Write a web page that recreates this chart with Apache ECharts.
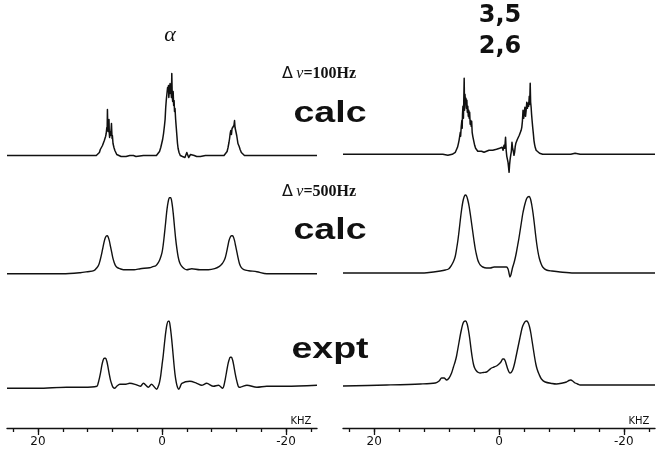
<!DOCTYPE html>
<html>
<head>
<meta charset="utf-8">
<script src="https://cdn.jsdelivr.net/npm/echarts@6/dist/echarts.min.js"></script>
<style>
  html, body { margin: 0; padding: 0; background: #fff; }
  #chart { width: 657px; height: 453px; }
</style>
</head>
<body>
<div id="chart"></div>
<script>
// Frequency offset in kHz, intensity in arbitrary units (baseline = 0).

// alpha deuterons, calculated with 100 Hz line width
const alphaCalc100 = [
  [25,0],[18,0],[13,0],[10.6,0],[10.3,1],[10.1,3],[9.95,6],[9.85,4],[9.75,8],[9.6,10],[9.5,9],[9.4,12],
  [9.3,15],[9.2,14],[9.1,19],[9.0,22],[8.95,20],[8.9,28],[8.85,25],[8.8,46],[8.75,30],[8.7,24],[8.65,33],
  [8.6,28],[8.55,36],[8.5,22],[8.45,18],[8.4,24],[8.3,20],[8.2,27],[8.15,32],[8.1,24],[8.05,17],[8.0,20],
  [7.9,12],[7.85,14],[7.75,8],[7.6,5],[7.45,3],[7.3,1],[7.1,0],[6.6,-1],[5.8,-1],[5.2,0],[4.9,2],[4.6,0],
  [4.2,-1],[3.0,0],[1.5,0],[0.9,0],[0.6,2],[0.4,4],[0.2,8],[0.05,12],[-0.1,16],[-0.25,22],[-0.4,30],
  [-0.5,36],[-0.6,48],[-0.7,56],[-0.8,62],[-0.9,68],[-0.95,64],[-1.05,70],[-1.1,58],[-1.2,66],[-1.3,72],
  [-1.38,62],[-1.45,66],[-1.52,58],[-1.58,82],[-1.65,60],[-1.72,54],[-1.8,64],[-1.88,50],[-1.95,55],
  [-2.02,44],[-2.1,47],[-2.2,36],[-2.3,28],[-2.4,20],[-2.5,12],[-2.6,7],[-2.75,3],[-2.95,0],[-3.3,-1],
  [-3.7,-2],[-4.0,3],[-4.3,-2],[-4.6,1],[-4.9,3],[-5.2,0],[-5.6,-1],[-6.2,-1],[-7,0],[-10.0,0],[-10.3,1],
  [-10.5,4],[-10.65,8],[-10.8,13],[-10.9,17],[-11.0,22],[-11.1,25],[-11.2,21],[-11.3,27],[-11.4,29],
  [-11.5,25],[-11.6,30],[-11.7,35],[-11.78,28],[-11.85,30],[-11.95,23],[-12.05,20],[-12.15,16],
  [-12.25,12],[-12.35,13],[-12.45,9],[-12.6,6],[-12.8,3],[-13.0,1],[-13.3,0],[-20,0],[-25,0]
];

// alpha deuterons, calculated with 500 Hz line width
const alphaCalc500 = [
  [25,0],[16,0],[13.2,1],[12.0,2],[11.0,3],[10.5,6],[10.2,9],[10.0,13],[9.8,18],[9.6,24],[9.4,30],
  [9.2,35],[9.0,37.5],[8.85,38],[8.7,37],[8.5,33],[8.3,27],[8.1,21],[7.9,15],[7.7,11],[7.5,8],[7.2,6],
  [6.8,5],[6.2,4],[4.5,4],[3.5,5],[2.0,6],[1.5,7],[1.0,8],[0.6,11],[0.3,15],[0.0,21],[-0.2,29],[-0.4,40],
  [-0.6,52],[-0.8,64],[-1.0,72],[-1.2,76],[-1.4,76],[-1.6,71],[-1.8,61],[-2.0,48],[-2.2,35],[-2.4,25],
  [-2.6,17],[-2.8,12],[-3.1,8],[-3.6,5],[-4.0,4],[-4.8,5],[-6.1,4],[-7.5,4],[-8.5,5],[-9.2,7],[-9.7,10],
  [-10.0,13],[-10.2,16],[-10.4,21],[-10.6,27],[-10.8,33],[-11.0,36.5],[-11.2,38],[-11.35,38],[-11.5,37],
  [-11.7,33],[-11.9,27],[-12.1,21],[-12.3,15],[-12.5,10],[-12.8,6],[-13.2,4],[-14,3],[-15.3,2],
  [-16.9,0],[-25,0]
];

// alpha deuterons, experiment
const alphaExpt = [
  [25,-1],[20,-1],[15.4,0],[12.7,0],[10.5,1],[10.3,4],[10.1,9],[9.9,15],[9.7,22],[9.5,27],[9.3,29],
  [9.1,29],[8.9,26],[8.7,20],[8.5,13],[8.3,7],[8.1,3],[7.9,0],[7.6,-1],[7.3,1],[6.8,3],[6.0,3],[5.2,4],
  [4.35,3],[3.5,1],[3.0,4],[2.2,0],[1.7,3],[0.85,-2],[0.6,1],[0.4,5],[0.2,12],[0.0,22],[-0.2,32],
  [-0.4,44],[-0.6,55],[-0.8,63],[-1.0,66],[-1.15,66],[-1.3,62],[-1.5,52],[-1.7,39],[-1.9,25],[-2.1,13],
  [-2.3,5],[-2.5,0],[-2.7,-2],[-2.9,0],[-3.2,4],[-4.5,6],[-5.6,4],[-6.4,2],[-7.2,4],[-8.3,1],[-9.1,2],
  [-9.8,-1],[-10.0,2],[-10.2,8],[-10.4,15],[-10.6,22],[-10.8,27],[-11.0,30],[-11.2,30],[-11.4,27],
  [-11.6,21],[-11.8,14],[-12.0,8],[-12.2,3],[-12.4,0],[-12.6,0],[-13.0,1],[-13.7,2],[-15.3,0],
  [-16.9,1],[-20,1],[-25,2]
];

// ring deuterons (3,5 / 2,6), calculated with 100 Hz line width
const ringCalc100 = [
  [25,0],[12,0],[9,0],[8.2,-1],[7.5,0],[7.2,1],[7.0,2],[6.8,4],[6.65,7],[6.5,11],[6.4,14],[6.3,16],
  [6.2,22],[6.15,18],[6.05,28],[5.95,34],[5.9,26],[5.85,40],[5.78,48],[5.7,36],[5.65,52],[5.58,76],
  [5.52,44],[5.45,60],[5.38,52],[5.3,56],[5.22,46],[5.15,54],[5.08,42],[5.0,48],[4.92,38],[4.85,44],
  [4.78,36],[4.7,42],[4.62,30],[4.55,34],[4.45,28],[4.38,33],[4.3,22],[4.2,18],[4.1,16],[4.0,12],
  [3.9,9],[3.75,6],[3.6,4],[3.4,3],[3.2,2],[2.8,3],[2.4,2],[2.0,3],[1.6,4],[1.3,3],[1.0,4],[0.7,3],
  [0.4,5],[0.15,4],[-0.1,6],[-0.3,5],[-0.5,7],[-0.65,4],[-0.8,9],[-0.92,6],[-1.05,17],[-1.15,4],
  [-1.25,-2],[-1.35,-5],[-1.45,-8],[-1.55,-14],[-1.62,-18],[-1.7,-10],[-1.8,-4],[-1.9,0],[-1.98,3],
  [-2.08,12],[-2.18,6],[-2.3,3],[-2.4,-1],[-2.5,2],[-2.6,8],[-2.7,11],[-2.8,12],[-2.95,15],[-3.1,17],
  [-3.25,19],[-3.4,21],[-3.55,24],[-3.65,27],[-3.75,33],[-3.85,44],[-3.95,36],[-4.05,41],[-4.15,47],
  [-4.25,38],[-4.35,44],[-4.45,52],[-4.55,46],[-4.65,51],[-4.75,48],[-4.85,58],[-4.92,50],[-5.0,71],
  [-5.07,52],[-5.15,47],[-5.22,40],[-5.3,34],[-5.4,27],[-5.5,21],[-5.6,14],[-5.7,10],[-5.8,7],
  [-5.95,4],[-6.2,2],[-6.5,1],[-7,0],[-11.5,0],[-12.2,1],[-13,0],[-25,0]
];

// ring deuterons, calculated with 500 Hz line width
const ringCalc500 = [
  [25,0],[12,0],[10.5,1],[9.4,2],[8.6,3],[8.1,4],[7.8,6],[7.5,9],[7.2,13],[7.0,17],[6.8,24],[6.6,32],
  [6.4,42],[6.2,53],[6.0,63],[5.8,71],[5.6,76],[5.4,78],[5.2,77],[5.0,73],[4.8,67],[4.6,59],[4.4,50],
  [4.2,41],[4.0,32],[3.8,24],[3.6,18],[3.4,13],[3.2,10],[3.0,8],[2.6,6],[2.0,5],[1.4,5],[0.8,6],
  [0.0,6],[-0.8,6],[-1.2,6],[-1.45,4],[-1.6,0],[-1.75,-4],[-1.9,-2],[-2.05,2],[-2.2,6],[-2.4,10],
  [-2.6,15],[-2.8,21],[-3.0,28],[-3.2,35],[-3.4,43],[-3.6,51],[-3.8,59],[-4.0,65],[-4.2,70],[-4.4,74],
  [-4.6,76],[-4.85,76.5],[-5.05,74],[-5.25,68],[-5.45,60],[-5.65,50],[-5.85,39],[-6.05,29],[-6.25,21],
  [-6.45,15],[-6.7,10],[-7.0,6],[-7.6,3],[-8.5,2],[-9.8,1],[-12,0],[-25,0]
];

// ring deuterons, experiment
const ringExpt = [
  [25,-1],[18,0],[12.6,1],[10.2,2],[9.6,4],[9.2,7],[8.8,7],[8.4,5],[8.0,7],[7.6,12],[7.3,18],[7.0,24],
  [6.8,29],[6.6,36],[6.4,43],[6.2,50],[6.0,56],[5.8,61],[5.6,63.5],[5.35,64],[5.1,61],[4.9,55],[4.7,47],
  [4.5,37],[4.3,28],[4.1,21],[3.9,17],[3.6,14],[3.3,12.5],[3.0,12],[2.5,12.5],[2.0,13],[1.6,15],
  [1.2,17],[0.8,18],[0.4,19],[0.0,21],[-0.3,23],[-0.6,26],[-0.8,26],[-1.0,24],[-1.2,20],[-1.4,16],
  [-1.6,13],[-1.75,12],[-1.95,12.5],[-2.15,14.5],[-2.35,18],[-2.55,23],[-2.75,29],[-2.95,35],
  [-3.15,41],[-3.35,47],[-3.55,53],[-3.75,58],[-3.95,61],[-4.2,63.5],[-4.45,64],[-4.7,62],[-4.9,58],
  [-5.1,52],[-5.3,44],[-5.5,36],[-5.7,28],[-5.9,21],[-6.1,16],[-6.4,11],[-6.8,6],[-7.4,3],[-8.5,1.5],
  [-9.2,1],[-10.2,2],[-10.8,3],[-11.2,4.5],[-11.5,5],[-11.9,3.5],[-12.2,2],[-12.6,1],[-13,0],[-25,0]
];

// frequency axis
const axisRange = [-25, 25];
const minorTicks = [24, 20, 16, 12, 8, 4, 0, -4, -8, -12, -16, -20, -24];
const majorTicks = [20, 0, -20];
const axisUnit = 'KHZ';

// annotations
const panelTitles = ['\u03b1', '3,5', '2,6'];
const widthLabels = ['=100Hz', '=500Hz'];
const traceLabels = ['calc', 'calc', 'expt'];

const INK = '#111';

// layout: two columns, three stacked traces each
const columns = [
  { left: 7, width: 310, traces: [alphaCalc100, alphaCalc500, alphaExpt], baselines: [155.5, 273.7, 387.3] },
  { left: 343, width: 312, traces: [ringCalc100, ringCalc500, ringExpt], baselines: [154.3, 273, 385] }
];
const axisY = 428;

const grid = [], xAxis = [], yAxis = [], series = [];

columns.forEach(col => {
  col.traces.forEach((data, i) => {
    const g = grid.length;
    // 1 intensity unit = 1 px: grid spans baseline-100 .. baseline+20
    grid.push({ left: col.left, width: col.width, top: col.baselines[i] - 100, height: 120 });
    const xi = xAxis.length, yi = yAxis.length;
    xAxis.push({ gridIndex: g, type: 'value', min: axisRange[0], max: axisRange[1], inverse: true, show: false });
    yAxis.push({ gridIndex: g, type: 'value', min: -20, max: 100, show: false });
    const jagged = i === 0;
    series.push({
      type: 'line', xAxisIndex: xi, yAxisIndex: yi, data: data,
      showSymbol: false, symbol: 'none', silent: true, animation: false,
      smooth: jagged ? false : 0.3,
      lineStyle: { color: INK, width: jagged ? 1.5 : 1.4, join: 'round' }
    });
  });
  // frequency axis under each column
  const g = grid.length;
  grid.push({ left: col.left, width: col.width, top: axisY - 1, height: 1 });
  yAxis.push({ gridIndex: g, type: 'value', min: 0, max: 1, show: false });
  xAxis.push({
    gridIndex: g, type: 'value', min: axisRange[0], max: axisRange[1], inverse: true, position: 'bottom',
    axisLine: { show: true, onZero: false, lineStyle: { color: INK, width: 1.4 } },
    axisTick: { show: true, length: 4, customValues: minorTicks, lineStyle: { color: INK, width: 1.3 } },
    axisLabel: {
      show: true, customValues: majorTicks, margin: 8, color: INK, fontSize: 12,
      fontFamily: 'DejaVu Sans', formatter: v => String(v)
    },
    splitLine: { show: false }
  });
  xAxis.push({
    gridIndex: g, type: 'value', min: axisRange[0], max: axisRange[1], inverse: true, position: 'bottom',
    axisLine: { show: false, onZero: false },
    axisTick: { show: true, length: 7, customValues: majorTicks, lineStyle: { color: INK, width: 1.3 } },
    axisLabel: { show: false },
    splitLine: { show: false }
  });
});

const graphic = [];
function addText(x, y, text, font, extra) {
  graphic.push(Object.assign({
    type: 'text', x: x, y: y, silent: true,
    style: { text: text, font: font, fill: INK, align: 'center', verticalAlign: 'middle' }
  }, extra || {}));
}

addText(170, 35, panelTitles[0], 'italic 22px "Liberation Serif"');
addText(500, 16, panelTitles[1], 'bold 24px "DejaVu Sans"');
addText(500, 47, panelTitles[2], 'bold 24px "DejaVu Sans"');

// line-width labels: Δν=...
[74, 192].forEach((y, i) => {
  graphic.push({
    type: 'text', x: 282, y: y, silent: true,
    style: {
      text: '{d|\u0394} {n|\u03bd}{t|' + widthLabels[i] + '}',
      verticalAlign: 'middle', align: 'left',
      rich: {
        d: { font: '16px "DejaVu Sans"', fill: INK },
        n: { font: 'italic 16px "Liberation Serif"', fill: INK },
        t: { font: 'bold 16px "Liberation Serif"', fill: INK }
      }
    }
  });
});

// trace labels, drawn slightly extended
[114, 231, 350].forEach((y, i) => {
  addText(330, y, traceLabels[i], 'bold 30px "Liberation Sans"', { scaleX: 1.25 });
});

// axis unit labels
addText(301, 421, axisUnit, '10px "DejaVu Sans"');
addText(639, 421, axisUnit, '10px "DejaVu Sans"');

const chart = echarts.init(document.getElementById('chart'), null, { renderer: 'canvas' });
chart.setOption({
  animation: false,
  backgroundColor: '#fff',
  grid: grid,
  xAxis: xAxis,
  yAxis: yAxis,
  series: series,
  graphic: graphic
});
</script>
</body>
</html>
